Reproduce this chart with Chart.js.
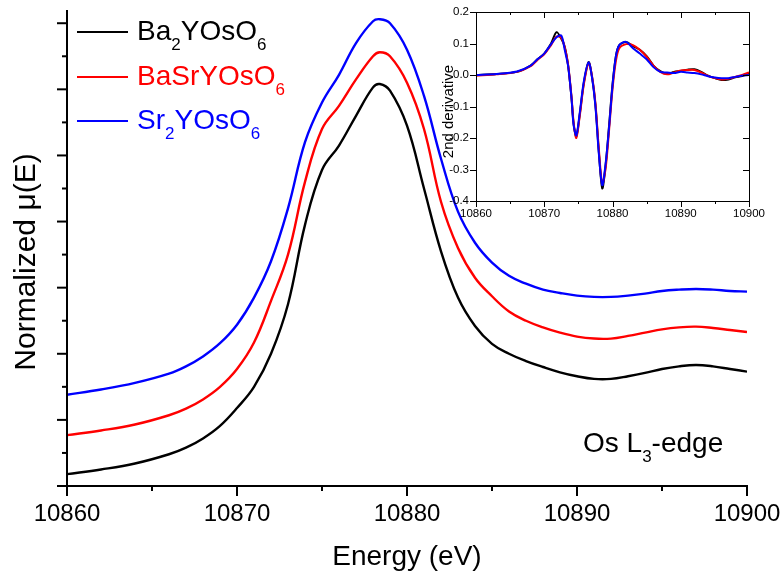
<!DOCTYPE html>
<html><head><meta charset="utf-8">
<script src="https://cdn.jsdelivr.net/npm/chart.js@4.4.1/dist/chart.umd.min.js"></script>
<style>
html,body{margin:0;padding:0;background:#fff;}
#wrap{position:relative;width:782px;height:578px;background:#fff;}
#main{position:absolute;left:0;top:0;}
#inset{position:absolute;left:420px;top:0;}
</style></head><body>
<div id="wrap"><canvas id="main" width="782" height="578"></canvas><canvas id="inset" width="350" height="235"></canvas></div>
<script>
// ---------- DATA ----------
const seriesNames = ['Ba2YOsO6', 'BaSrYOsO6', 'Sr2YOsO6'];
const seriesColors = ['#000000', '#ff0000', '#0000ff'];

const mainEnergy = [10860, 10862, 10864, 10866, 10867, 10868, 10869, 10870, 10871, 10872, 10873, 10874, 10875, 10876, 10877, 10878, 10878.4, 10879, 10880, 10881, 10882, 10883, 10884, 10885, 10886, 10887, 10888, 10889, 10890, 10891, 10892, 10893, 10894, 10895, 10896, 10897, 10898, 10899, 10900];
const muBa2 = [0.18, 0.25, 0.34, 0.48, 0.58, 0.72, 0.91, 1.18, 1.50, 2.00, 2.75, 3.95, 4.78, 5.15, 5.60, 6.03, 6.08, 5.98, 5.45, 4.50, 3.55, 2.85, 2.42, 2.15, 2.00, 1.89, 1.80, 1.72, 1.66, 1.62, 1.62, 1.66, 1.71, 1.77, 1.81, 1.83, 1.81, 1.77, 1.73];
const muBaSr = [0.77, 0.84, 0.93, 1.07, 1.17, 1.31, 1.50, 1.77, 2.17, 2.80, 3.50, 4.60, 5.40, 5.75, 6.15, 6.50, 6.56, 6.50, 6.10, 5.40, 4.30, 3.60, 3.15, 2.87, 2.64, 2.50, 2.40, 2.32, 2.26, 2.23, 2.23, 2.27, 2.32, 2.37, 2.40, 2.41, 2.39, 2.36, 2.33];
const muSr2 = [1.38, 1.46, 1.56, 1.70, 1.81, 1.96, 2.16, 2.44, 2.85, 3.40, 4.20, 5.20, 5.80, 6.22, 6.70, 7.03, 7.06, 7.00, 6.60, 5.90, 4.95, 4.15, 3.68, 3.38, 3.18, 3.06, 2.97, 2.92, 2.88, 2.86, 2.86, 2.88, 2.91, 2.95, 2.97, 2.98, 2.97, 2.95, 2.94];

const insetEnergy = [10860, 10863, 10866, 10868, 10869, 10870, 10871, 10871.8, 10872.5, 10873, 10873.5, 10874, 10874.3, 10874.7, 10875.2, 10875.8, 10876.5, 10877, 10877.5, 10878, 10878.5, 10879, 10879.5, 10880, 10880.5, 10881, 10882, 10883, 10884, 10885, 10886, 10887, 10888, 10889, 10890, 10891, 10892, 10893, 10894, 10895, 10896, 10897, 10898, 10899, 10900];
const d2Ba2 = [0.000, 0.003, 0.010, 0.030, 0.050, 0.068, 0.100, 0.136, 0.115, 0.090, 0.030, -0.075, -0.155, -0.195, -0.125, -0.025, 0.041, -0.006, -0.095, -0.245, -0.360, -0.285, -0.160, -0.030, 0.060, 0.095, 0.105, 0.092, 0.080, 0.060, 0.030, 0.012, 0.003, 0.010, 0.013, 0.017, 0.018, 0.010, -0.002, -0.010, -0.016, -0.014, -0.007, -0.003, 0.006];
const d2BaSr = [-0.002, 0.002, 0.010, 0.028, 0.048, 0.066, 0.095, 0.122, 0.118, 0.088, 0.032, -0.070, -0.150, -0.200, -0.130, -0.030, 0.038, -0.004, -0.090, -0.235, -0.345, -0.295, -0.175, -0.045, 0.045, 0.085, 0.098, 0.095, 0.080, 0.058, 0.030, 0.010, 0.002, 0.008, 0.014, 0.016, 0.016, 0.008, -0.003, -0.010, -0.014, -0.012, -0.006, 0.000, 0.008];
const d2Sr2 = [0.000, 0.003, 0.011, 0.030, 0.050, 0.068, 0.098, 0.120, 0.125, 0.080, 0.028, -0.075, -0.158, -0.192, -0.120, -0.020, 0.040, -0.008, -0.100, -0.250, -0.350, -0.280, -0.165, -0.035, 0.060, 0.095, 0.105, 0.085, 0.068, 0.050, 0.025, 0.010, 0.008, 0.006, 0.010, 0.008, 0.006, 0.002, -0.004, -0.008, -0.010, -0.010, -0.006, -0.002, 0.000];

const xTicksMain = [10860, 10870, 10880, 10890, 10900];
const edgeLabel = 'Os L3-edge';
const xTitle = 'Energy (eV)';
const yTitle = 'Normalized \u03bc(E)';
const insetYTitle = '2nd derivative';

// ---------- HELPERS ----------
const FONT = "'Liberation Sans', Arial, sans-serif";
function drawChem(ctx, text, x, y, size, color) {
  ctx.fillStyle = color; ctx.textBaseline = 'alphabetic'; ctx.textAlign = 'left';
  const subSize = Math.round(size * 0.62);
  for (const ch of text) {
    const sub = /[0-9]/.test(ch);
    ctx.font = (sub ? subSize : size) + 'px ' + FONT;
    ctx.fillText(ch, x, sub ? y + size * 0.36 : y);
    x += ctx.measureText(ch).width;
  }
}
function seg(ctx, x1, y1, x2, y2) { ctx.beginPath(); ctx.moveTo(x1, y1); ctx.lineTo(x2, y2); ctx.stroke(); }
function pts(xs, ys) { return xs.map((v, i) => ({x: v, y: ys[i]})); }

// ---------- MAIN CHART ----------
const mainDeco = {
  id: 'mainDeco',
  afterDraw(chart) {
    const {ctx, chartArea: a, scales: {x, y}} = chart;
    ctx.save();
    ctx.strokeStyle = '#000'; ctx.lineWidth = 2; ctx.lineCap = 'butt';
    ctx.beginPath(); ctx.moveTo(a.left, a.top); ctx.lineTo(a.left, a.bottom); ctx.lineTo(a.right + 1, a.bottom); ctx.stroke();
    for (let v = x.min; v <= x.max + 0.01; v += 5) {
      const px = x.getPixelForValue(v);
      seg(ctx, px, a.bottom, px, a.bottom + ((v - x.min) % 10 === 0 ? 10 : 5));
    }
    for (let i = 0; i <= 14; i++) {
      const py = y.getPixelForValue(i * 0.5);
      seg(ctx, a.left - (i % 2 === 0 ? 10 : 5), py, a.left, py);
    }
    // legend
    const rows = [32, 77, 121];
    seriesNames.forEach((n, i) => {
      ctx.strokeStyle = seriesColors[i]; ctx.lineWidth = 2;
      seg(ctx, 77, rows[i], 128, rows[i]);
      drawChem(ctx, n, 137, rows[i] + 8, 28, seriesColors[i]);
    });
    drawChem(ctx, edgeLabel, 583, 452, 28, '#000');
    // titles
    ctx.fillStyle = '#000'; ctx.font = '28px ' + FONT; ctx.textAlign = 'center'; ctx.textBaseline = 'alphabetic';
    ctx.fillText(xTitle, (a.left + a.right) / 2, 565);
    ctx.translate(35, 262); ctx.rotate(-Math.PI / 2);
    ctx.font = '30px ' + FONT;
    ctx.fillText(yTitle, 0, 0);
    ctx.restore();
  }
};

new Chart(document.getElementById('main'), {
  type: 'line',
  data: {
    datasets: [muBa2, muBaSr, muSr2].map((d, i) => ({
      label: seriesNames[i], data: pts(mainEnergy, d),
      borderColor: seriesColors[i], borderWidth: 2.4, pointRadius: 0,
      tension: 0.4, fill: false
    }))
  },
  options: {
    responsive: false, animation: false, devicePixelRatio: 1,
    layout: {padding: {left: 0, top: 10, right: 35, bottom: 0}},
    plugins: {legend: {display: false}, tooltip: {enabled: false}},
    scales: {
      x: {
        type: 'linear', min: 10860, max: 10900,
        afterBuildTicks(s) { s.ticks = xTicksMain.map(v => ({value: v})); },
        afterFit(s) { s.height = 92; s.paddingLeft = 0; s.paddingRight = 0; },
        grid: {display: false, drawTicks: false}, border: {display: false},
        ticks: {font: {family: FONT, size: 24}, color: '#000', padding: 14, maxRotation: 0, callback: v => String(v)}
      },
      y: {
        type: 'linear', min: 0, max: 7.2,
        afterFit(s) { s.width = 67; s.paddingTop = 0; s.paddingBottom = 0; },
        grid: {display: false, drawTicks: false}, border: {display: false},
        ticks: {display: false}
      }
    }
  },
  plugins: [mainDeco]
});

// ---------- INSET ----------
const insetDeco = {
  id: 'insetDeco',
  afterDraw(chart) {
    const {ctx, chartArea: a, scales: {x, y}} = chart;
    ctx.save();
    ctx.strokeStyle = '#000'; ctx.lineWidth = 1;
    ctx.strokeRect(a.left + 0.5, a.top + 0.5, a.right - a.left, a.bottom - a.top);
    for (let v = x.min; v <= x.max + 0.01; v += 5) {
      const px = Math.round(x.getPixelForValue(v)) + 0.5;
      const len = ((v - x.min) % 10 === 0) ? 6 : 3;
      seg(ctx, px, a.bottom, px, a.bottom + len);
      seg(ctx, px, a.top, px, a.top + len);
    }
    for (let i = 0; i <= 6; i++) {
      const py = Math.round(y.getPixelForValue(-0.4 + i * 0.1)) + 0.5;
      seg(ctx, a.left - 6, py, a.left, py);
      seg(ctx, a.right - 6, py, a.right, py);
    }
    ctx.fillStyle = '#000'; ctx.font = '15px ' + FONT; ctx.textAlign = 'center'; ctx.textBaseline = 'alphabetic';
    ctx.translate(33, (a.top + a.bottom) / 2 + 5); ctx.rotate(-Math.PI / 2);
    ctx.fillText(insetYTitle, 0, 0);
    ctx.restore();
  }
};

new Chart(document.getElementById('inset'), {
  type: 'line',
  data: {
    datasets: [d2Ba2, d2BaSr, d2Sr2].map((d, i) => ({
      label: seriesNames[i], data: pts(insetEnergy, d),
      borderColor: seriesColors[i], borderWidth: 2, pointRadius: 0,
      tension: 0.3, fill: false, order: 2 - i
    }))
  },
  options: {
    responsive: false, animation: false, devicePixelRatio: 1,
    layout: {padding: {left: 0, top: 12, right: 21, bottom: 0}},
    plugins: {legend: {display: false}, tooltip: {enabled: false}},
    scales: {
      x: {
        type: 'linear', min: 10860, max: 10900,
        afterBuildTicks(s) { s.ticks = xTicksMain.map(v => ({value: v})); },
        afterFit(s) { s.height = 34; s.paddingLeft = 0; s.paddingRight = 0; },
        grid: {display: false, drawTicks: false}, border: {display: false},
        ticks: {font: {family: FONT, size: 11.5}, color: '#000', padding: 6, maxRotation: 0, callback: v => String(v)}
      },
      y: {
        type: 'linear', min: -0.4, max: 0.2,
        afterBuildTicks(s) { s.ticks = [-0.4, -0.3, -0.2, -0.1, 0, 0.1, 0.2].map(v => ({value: v})); },
        afterFit(s) { s.width = 56; s.paddingTop = 0; s.paddingBottom = 0; },
        grid: {display: false, drawTicks: false}, border: {display: false},
        ticks: {font: {family: FONT, size: 11.5}, color: '#000', padding: 7,
          callback: v => (Math.abs(v) < 1e-9 ? '0.0' : Number(v).toFixed(1))}
      }
    }
  },
  plugins: [insetDeco]
});
</script>
</body></html>
